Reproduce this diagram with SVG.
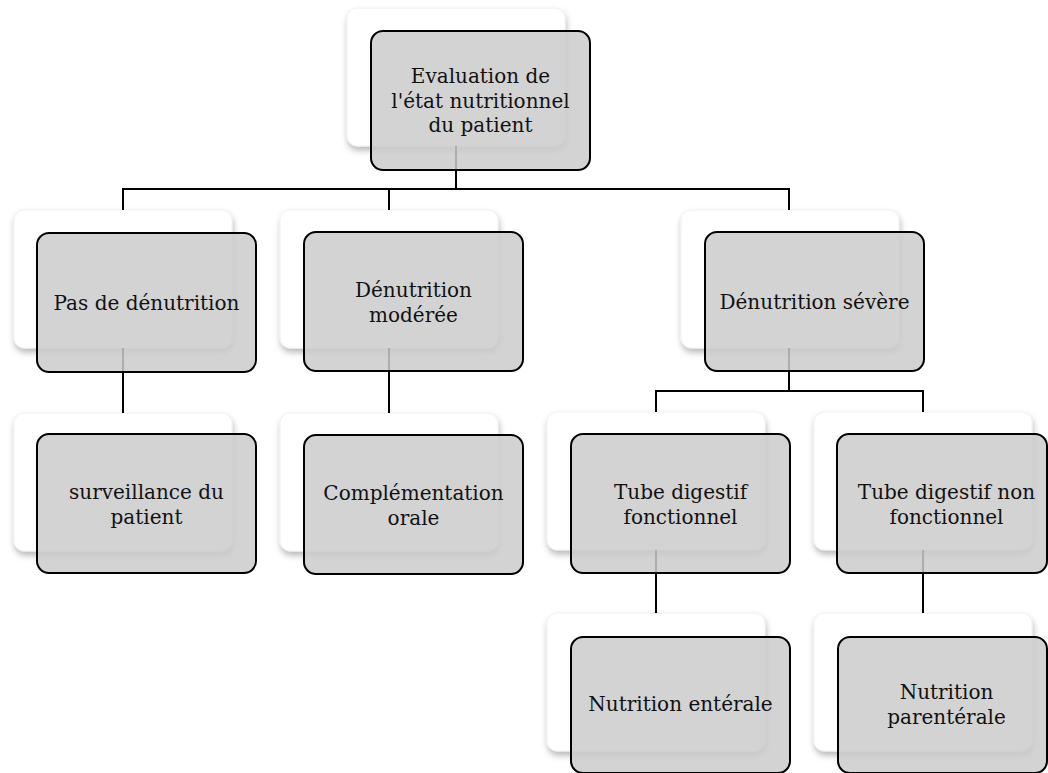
<svg xmlns="http://www.w3.org/2000/svg" width="1048" height="773" viewBox="0 0 1048 773">
<defs>
<filter id="sh" x="-10%" y="-10%" width="125%" height="130%">
<feDropShadow dx="1" dy="4" stdDeviation="3" flood-color="#000" flood-opacity="0.28"/>
</filter>
<style>
.bg{fill:#ffffff;stroke:#f0f0f0;stroke-width:1;filter:url(#sh)}
.fg{fill:#cbcbcb;fill-opacity:0.85;stroke:#000;stroke-width:2}
.t{font-family:"DejaVu Serif","Liberation Serif",serif;font-size:20px;fill:#111;text-anchor:middle}
.c{fill:none;stroke:#000;stroke-width:2}
</style>
</defs>
<rect width="1048" height="773" fill="#fff"/>

<g id="backs">
<rect class="bg" x="347" y="8" width="218" height="138" rx="10"/>
<rect class="bg" x="14" y="210" width="218" height="138" rx="10"/>
<rect class="bg" x="280" y="210" width="218" height="138" rx="10"/>
<rect class="bg" x="681" y="210" width="218" height="138" rx="10"/>
<rect class="bg" x="14" y="413" width="218" height="138" rx="10"/>
<rect class="bg" x="280" y="413" width="218" height="138" rx="10"/>
<rect class="bg" x="547" y="412" width="218" height="138" rx="10"/>
<rect class="bg" x="814" y="412" width="218" height="138" rx="10"/>
<rect class="bg" x="547" y="613" width="218" height="138" rx="10"/>
<rect class="bg" x="814" y="613" width="218" height="138" rx="10"/>
</g>

<g id="connectors">
<path class="c" d="M456,146 V189 M123,189 H790 M123,188 V210 M389,188 V210 M789,188 V210"/>
<path class="c" d="M123,348 V413"/>
<path class="c" d="M389,348 V413"/>
<path class="c" d="M789,348 V391 M656,391 H924 M656,390 V412 M923,390 V412"/>
<path class="c" d="M656,550 V613"/>
<path class="c" d="M923,550 V613"/>
</g>

<g id="n-eval">
<rect class="fg" x="371" y="31" width="219" height="139" rx="12"/>
<text class="t" x="480.5" y="83">Evaluation de</text>
<text class="t" x="480.5" y="108">l'état nutritionnel</text>
<text class="t" x="480.5" y="132">du patient</text>
</g>
<g id="n-pas">
<rect class="fg" x="37" y="233" width="219" height="139" rx="12"/>
<text class="t" x="146.5" y="310">Pas de dénutrition</text>
</g>
<g id="n-mod">
<rect class="fg" x="304" y="232" width="219" height="139" rx="12"/>
<text class="t" x="413.5" y="297">Dénutrition</text>
<text class="t" x="413.5" y="322">modérée</text>
</g>
<g id="n-sev">
<rect class="fg" x="705" y="232" width="219" height="139" rx="12"/>
<text class="t" x="814.5" y="309">Dénutrition sévère</text>
</g>
<g id="n-surv">
<rect class="fg" x="37" y="434" width="219" height="139" rx="12"/>
<text class="t" x="146.5" y="499">surveillance du</text>
<text class="t" x="146.5" y="524">patient</text>
</g>
<g id="n-compl">
<rect class="fg" x="304" y="435" width="219" height="139" rx="12"/>
<text class="t" x="413.5" y="500">Complémentation</text>
<text class="t" x="413.5" y="525">orale</text>
</g>
<g id="n-tubef">
<rect class="fg" x="571" y="434" width="219" height="139" rx="12"/>
<text class="t" x="680.5" y="499">Tube digestif</text>
<text class="t" x="680.5" y="524">fonctionnel</text>
</g>
<g id="n-tubenf">
<rect class="fg" x="837" y="434" width="210" height="139" rx="12"/>
<text class="t" x="946.5" y="499">Tube digestif non</text>
<text class="t" x="946.5" y="524">fonctionnel</text>
</g>
<g id="n-ent">
<rect class="fg" x="571" y="637" width="219" height="136" rx="12"/>
<text class="t" x="680.5" y="711">Nutrition entérale</text>
</g>
<g id="n-par">
<rect class="fg" x="838" y="637" width="209" height="136" rx="12"/>
<text class="t" x="946.5" y="699">Nutrition</text>
<text class="t" x="946.5" y="724">parentérale</text>
</g>
</svg>
